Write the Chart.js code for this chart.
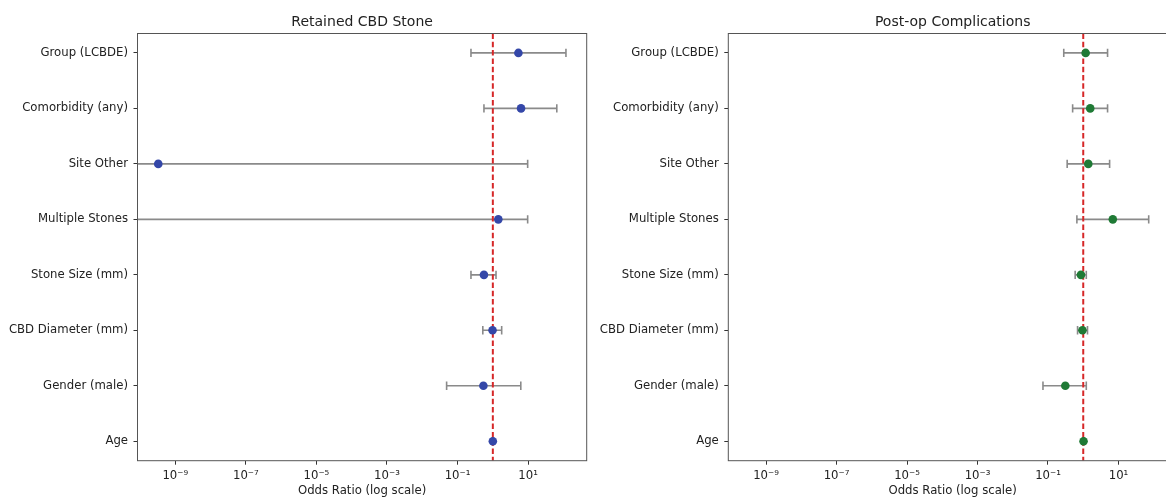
<!DOCTYPE html>
<html>
<head>
<meta charset="utf-8">
<script src="https://cdn.jsdelivr.net/npm/chart.js@4.4.1/dist/chart.umd.min.js"></script>
<style>
  html, body { margin: 0; padding: 0; background: #fff; overflow: hidden; width: 1166px; height: 497px; }
  canvas { position: absolute; top: 0; }
  #graficoIzq { left: 0; }
  #graficoDer { left: 590px; }
</style>
</head>
<body>
<canvas id="graficoIzq" width="595" height="500"></canvas>
<canvas id="graficoDer" width="600" height="500"></canvas>
<script>
// Datos (odds ratio e intervalos de confianza)
const categorias = ['Group (LCBDE)', 'Comorbidity (any)', 'Site Other', 'Multiple Stones',
                    'Stone Size (mm)', 'CBD Diameter (mm)', 'Gender (male)', 'Age'];

const calculoOR   = [5.3, 6.3, 3.3e-10, 1.43, 0.56, 0.98, 0.54, 1.0];
const calculoBajo = [0.24, 0.56, 1e-14, 1e-14, 0.24, 0.52, 0.049, 0.97];
const calculoAlto = [118, 65, 9.7, 9.7, 1.23, 1.78, 6.2, 1.03];

const complicOR   = [1.17, 1.58, 1.39, 6.9, 0.86, 0.95, 0.31, 1.02];
const complicBajo = [0.28, 0.50, 0.35, 0.66, 0.59, 0.69, 0.072, 0.97];
const complicAlto = [4.9, 4.9, 5.6, 72, 1.22, 1.32, 1.22, 1.06];

const exponentes = [-9, -7, -5, -3, -1, 1];
const etiquetasX = ['10\u207B\u2079', '10\u207B\u2077', '10\u207B\u2075', '10\u207B\u00B3', '10\u207B\u00B9', '10\u00B9'];
const valorReferencia = 1;

const fuente = 'DejaVu Sans';
const colorTexto = '#222';

// Marco completo alrededor del área del gráfico
const marco = {
    id: 'marco',
    afterDatasetsDraw(chart) {
        const a = chart.chartArea;
        const ctx = chart.ctx;
        ctx.save();
        ctx.strokeStyle = '#555';
        ctx.lineWidth = 1;
        ctx.strokeRect(a.left, a.top, a.right - a.left, a.bottom - a.top);
        ctx.restore();
    }
};

function crearGrafico(id, titulo, or, bajo, alto, color, anchoEjeY, rellenoDer) {
    const barras = categorias.map((c, i) => ({
        data: [{ x: bajo[i], y: i }, { x: alto[i], y: i }],
        showLine: true,
        borderColor: '#8a8a8a',
        borderWidth: 1.6,
        pointStyle: 'line',
        rotation: 90,
        pointRadius: 4.2,
        pointBorderColor: '#8a8a8a',
        pointBorderWidth: 1.6,
        order: 2
    }));
    const n = categorias.length;
    const datasets = barras.concat([
        {
            data: [{ x: valorReferencia, y: -0.35 }, { x: valorReferencia, y: n - 1 + 0.35 }],
            showLine: true,
            borderColor: '#d62728',
            borderWidth: 2,
            borderDash: [5.5, 2.8],
            pointRadius: 0,
            order: 1
        },
        {
            data: or.map((v, i) => ({ x: v, y: i })),
            showLine: false,
            pointRadius: 4.3,
            pointBackgroundColor: color,
            pointBorderColor: color,
            pointBorderWidth: 0,
            order: 0
        }
    ]);

    new Chart(document.getElementById(id), {
        type: 'scatter',
        data: { datasets },
        plugins: [marco],
        options: {
            responsive: false,
            animation: false,
            devicePixelRatio: 1,
            layout: { padding: { left: 0, right: rellenoDer, top: 0, bottom: 2 } },
            plugins: {
                legend: { display: false },
                tooltip: { enabled: false },
                title: {
                    display: true,
                    text: titulo,
                    fullSize: false,
                    color: colorTexto,
                    font: { family: fuente, size: 14, weight: 'normal' },
                    padding: { top: 13.6, bottom: 3.1 }
                }
            },
            scales: {
                x: {
                    type: 'logarithmic',
                    bounds: 'data',
                    min: Math.pow(10, -10.07),
                    max: Math.pow(10, 2.66),
                    border: { display: false },
                    grid: { drawOnChartArea: false, drawTicks: true, tickLength: 4, tickColor: '#333', tickWidth: 1 },
                    afterBuildTicks: (eje) => { eje.ticks = exponentes.map(e => ({ value: Math.pow(10, e) })); },
                    afterFit: (eje) => { eje.height = 37.3; },
                    ticks: {
                        autoSkip: false,
                        maxRotation: 0,
                        padding: 4,
                        color: colorTexto,
                        font: { family: fuente, size: 11.7 },
                        callback: (v, i) => etiquetasX[i]
                    },
                    title: {
                        display: true,
                        text: 'Odds Ratio (log scale)',
                        color: colorTexto,
                        font: { family: fuente, size: 11.7 },
                        padding: { top: 0, bottom: 0 }
                    }
                },
                y: {
                    type: 'linear',
                    reverse: true,
                    bounds: 'data',
                    min: -0.35,
                    max: n - 1 + 0.35,
                    border: { display: false },
                    grid: { drawOnChartArea: false, drawTicks: true, tickLength: 4, tickColor: '#333', tickWidth: 1 },
                    afterBuildTicks: (eje) => { eje.ticks = categorias.map((c, i) => ({ value: i })); },
                    afterFit: (eje) => { eje.width = anchoEjeY; },
                    ticks: {
                        autoSkip: false,
                        padding: 5.5,
                        color: colorTexto,
                        font: { family: fuente, size: 11.7 },
                        callback: (v) => categorias[v]
                    }
                }
            }
        }
    });
}

document.addEventListener('DOMContentLoaded', () => {
    crearGrafico('graficoIzq', 'Retained CBD Stone', calculoOR, calculoBajo, calculoAlto, '#3447a8', 137.5, 8.3);
    crearGrafico('graficoDer', 'Post-op Complications', complicOR, complicBajo, complicAlto, '#1f7a35', 138.3, 13);
});
</script>
</body>
</html>
